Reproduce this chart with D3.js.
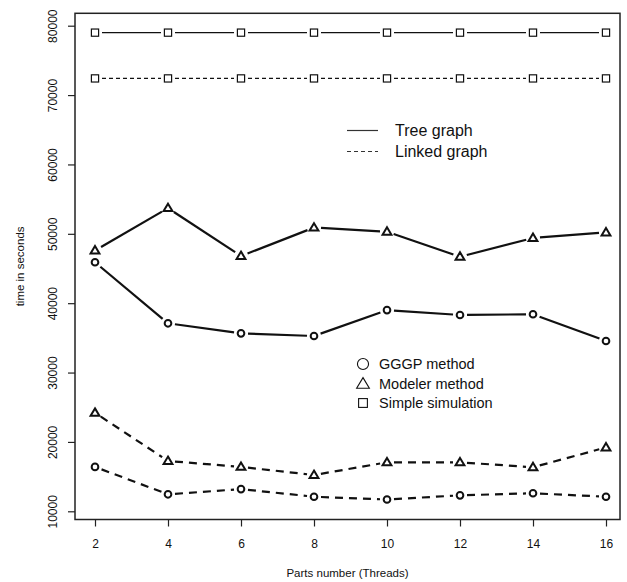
<!DOCTYPE html>
<html>
<head>
<meta charset="utf-8">
<script src="https://cdn.jsdelivr.net/npm/d3@7"></script>
<style>
  body { margin: 0; background: #fff; }
  svg { display: block; font-family: "Liberation Sans", Arial, Helvetica, sans-serif; }
</style>
</head>
<body>
<svg></svg>
<script>
// Data
const threads = [2, 4, 6, 8, 10, 12, 14, 16];
const gggpTree = [45900, 37100, 35650, 35270, 39000, 38300, 38400, 34550];
const modelerTree = [47600, 53700, 46800, 50900, 50300, 46700, 49400, 50200];
const simpleTree = [79000, 79000, 79000, 79000, 79000, 79000, 79000, 79000];
const gggpLinked = [16400, 12450, 13200, 12100, 11700, 12300, 12600, 12100];
const modelerLinked = [24200, 17250, 16400, 15230, 17060, 17060, 16350, 19200];
const simpleLinked = [72400, 72400, 72400, 72400, 72400, 72400, 72400, 72400];
const yTicks = [10000, 20000, 30000, 40000, 50000, 60000, 70000, 80000];

const width = 627;
const height = 582;

const svg = d3.select("svg")
    .attr("width", width)
    .attr("height", height);

// plot box
const box = { left: 75, right: 620, top: 13.3, bottom: 519.5 };

const x = d3.scaleLinear().domain([2, 16]).range([95, 606]);
const y = d3.scaleLinear().domain([10000, 80000]).range([511.3, 25.7]);

svg.append("rect")
    .attr("x", box.left)
    .attr("y", box.top)
    .attr("width", box.right - box.left)
    .attr("height", box.bottom - box.top)
    .attr("fill", "none")
    .attr("stroke", "#222")
    .attr("stroke-width", 1.5);

// y axis
const yAxis = svg.append("g")
    .attr("transform", `translate(${box.left},0)`)
    .call(d3.axisLeft(y).tickValues(yTicks).tickSize(7).tickFormat(d3.format("d")));
yAxis.select(".domain").remove();
yAxis.selectAll("line").attr("stroke", "#222").attr("stroke-width", 1.2);
yAxis.selectAll("text")
    .attr("x", 0).attr("dy", null)
    .attr("transform", "translate(-18,0) rotate(-90)")
    .attr("text-anchor", "middle")
    .attr("fill", "#111")
    .style("font-size", "12px");

// x axis
const xAxis = svg.append("g")
    .attr("transform", `translate(0,${box.bottom})`)
    .call(d3.axisBottom(x).tickValues(threads).tickSize(7));
xAxis.select(".domain").remove();
xAxis.selectAll("line").attr("stroke", "#222").attr("stroke-width", 1.2);
xAxis.selectAll("text")
    .attr("y", 20)
    .attr("fill", "#111")
    .style("font-size", "12px");

// axis titles
svg.append("text")
    .attr("x", (box.left + box.right) / 2)
    .attr("y", 577)
    .attr("text-anchor", "middle")
    .style("font-size", "11.5px")
    .attr("fill", "#111")
    .text("Parts number (Threads)");

svg.append("text")
    .attr("transform", `translate(24,${(box.top + box.bottom) / 2}) rotate(-90)`)
    .attr("text-anchor", "middle")
    .style("font-size", "11.5px")
    .attr("fill", "#111")
    .text("time in seconds");

// series, drawn like R type="b": segments with gaps around the points
const series = [
    { values: simpleTree, shape: "square", dash: null, lw: 1.2 },
    { values: simpleLinked, shape: "square", dash: "4,3", lw: 1.2 },
    { values: modelerTree, shape: "triangle", dash: null, lw: 2.2 },
    { values: gggpTree, shape: "circle", dash: null, lw: 2.2 },
    { values: modelerLinked, shape: "triangle", dash: "8,6", lw: 2.2 },
    { values: gggpLinked, shape: "circle", dash: "8,6", lw: 2.2 }
];

const gap = 7;

function drawSymbol(g, shape, cx, cy, lw, size) {
    if (shape === "circle") {
        g.append("circle").attr("cx", cx).attr("cy", cy).attr("r", size * 0.37)
            .attr("fill", "none").attr("stroke", "#111").attr("stroke-width", lw);
    } else if (shape === "square") {
        const s = size * 0.8;
        g.append("rect").attr("x", cx - s / 2).attr("y", cy - s / 2).attr("width", s).attr("height", s)
            .attr("fill", "none").attr("stroke", "#111").attr("stroke-width", lw);
    } else {
        const h = size * 0.82, w = size * 0.98;
        g.append("path")
            .attr("d", `M${cx},${cy - h * 0.6}L${cx + w / 2},${cy + h * 0.4}L${cx - w / 2},${cy + h * 0.4}Z`)
            .attr("fill", "none").attr("stroke", "#111").attr("stroke-width", lw)
            .attr("stroke-linejoin", "miter");
    }
}

series.forEach(s => {
    const g = svg.append("g");
    const pts = threads.map((t, i) => [x(t), y(s.values[i])]);
    for (let i = 0; i < pts.length - 1; i++) {
        const [x0, y0] = pts[i], [x1, y1] = pts[i + 1];
        const len = Math.hypot(x1 - x0, y1 - y0);
        const ux = (x1 - x0) / len, uy = (y1 - y0) / len;
        g.append("line")
            .attr("x1", x0 + ux * gap).attr("y1", y0 + uy * gap)
            .attr("x2", x1 - ux * gap).attr("y2", y1 - uy * gap)
            .attr("stroke", "#111")
            .attr("stroke-width", s.lw)
            .attr("stroke-dasharray", s.dash);
    }
    pts.forEach(p => drawSymbol(g, s.shape, p[0], p[1], s.shape === "square" ? 1.2 : 2, 9));
});

// legend: line types
const leg1 = svg.append("g");
[["Tree graph", null, 130.5], ["Linked graph", "4,3", 151.5]].forEach(d => {
    leg1.append("line")
        .attr("x1", 347).attr("x2", 378).attr("y1", d[2]).attr("y2", d[2])
        .attr("stroke", "#333").attr("stroke-width", 1.2)
        .attr("stroke-dasharray", d[1]);
    leg1.append("text")
        .attr("x", 395).attr("y", d[2]).attr("dy", "0.35em")
        .style("font-size", "16px").attr("fill", "#111")
        .text(d[0]);
});

// legend: methods
const leg2 = svg.append("g");
[["GGGP method", "circle", 364], ["Modeler method", "triangle", 384], ["Simple simulation", "square", 403]].forEach(d => {
    drawSymbol(leg2, d[1], 363, d[2], 1.1, d[1] === "circle" ? 15 : (d[1] === "triangle" ? 13 : 11));
    leg2.append("text")
        .attr("x", 379).attr("y", d[2]).attr("dy", "0.35em")
        .style("font-size", "14.5px").attr("fill", "#111")
        .text(d[0]);
});
</script>
</body>
</html>
